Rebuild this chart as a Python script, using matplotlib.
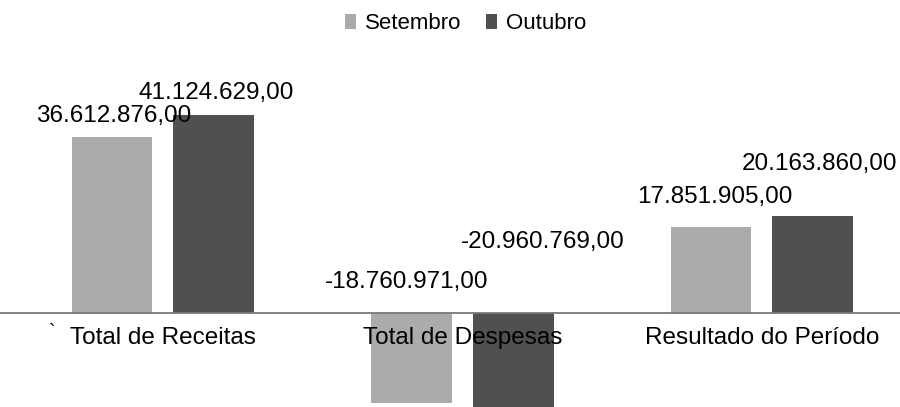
import numpy as np
import matplotlib
matplotlib.use('Agg')
import matplotlib.pyplot as plt

plt.rcParams['font.family'] = ['Liberation Sans', 'DejaVu Sans']

categories = ['Total de Receitas', 'Total de Despesas', 'Resultado do Período']
series = ['Setembro', 'Outubro']
setembro = [36612876.00, -18760971.00, 17851905.00]
outubro = [41124629.00, -20960769.00, 20163860.00]


def fmt_br(v):
    # 36.612.876,00 style
    s = '{:,.2f}'.format(v)
    return s.replace(',', '#').replace('.', ',').replace('#', '.')


fig = plt.figure(figsize=(9, 4.07), dpi=100)
ax = fig.add_axes([0, 0, 1, 347 / 407])

x = np.arange(len(categories))
w = 0.27
off = 0.17
bars_s = ax.bar(x - off, setembro, w, color='#ababab', label=series[0], zorder=1)
bars_o = ax.bar(x + off, outubro, w, color='#505050', label=series[1], zorder=1)

ax.set_xlim(-0.544, 2.461)
ax.set_ylim(-19.5e6, 52.5e6)

for s in ['left', 'right', 'top']:
    ax.spines[s].set_visible(False)
ax.spines['bottom'].set_position(('data', 0))
ax.spines['bottom'].set_color('#7a7a7a')
ax.spines['bottom'].set_linewidth(1.3)
ax.spines['bottom'].set_zorder(3)
ax.set_yticks([])
ax.set_xticks(x)
ax.set_xticklabels(categories, fontsize=17.5)
ax.tick_params(axis='x', length=0, pad=10)
for t in ax.get_xticklabels():
    t.set_zorder(5)

# label offsets in pixels (dx, dy) from bar centre / top (or baseline for negatives)
lab_off_s = [(2, 15), (-5, 25), (4, 24)]
lab_off_o = [(2, 16), (29, 65), (7, 46)]
for bars, vals, offs in [(bars_s, setembro, lab_off_s), (bars_o, outubro, lab_off_o)]:
    for b, v, (dx, dy) in zip(bars, vals, offs):
        xc = b.get_x() + b.get_width() / 2
        ax.annotate(fmt_br(v), xy=(xc, max(v, 0)), xytext=(dx, dy),
                    textcoords='offset pixels', ha='center', va='baseline',
                    fontsize=17.5, color='black', zorder=6)

fig.legend(handles=[bars_s, bars_o], labels=series, loc='upper center',
           bbox_to_anchor=(0.517, 1.0), ncol=2, frameon=False, fontsize=16,
           handlelength=0.5, handleheight=0.65, handletextpad=0.4,
           columnspacing=1.1, borderaxespad=0.2)

fig.text(52 / 900, 1 - 333 / 407, '`', fontsize=14, ha='center', va='center')

fig.savefig('out.png', dpi=100)
